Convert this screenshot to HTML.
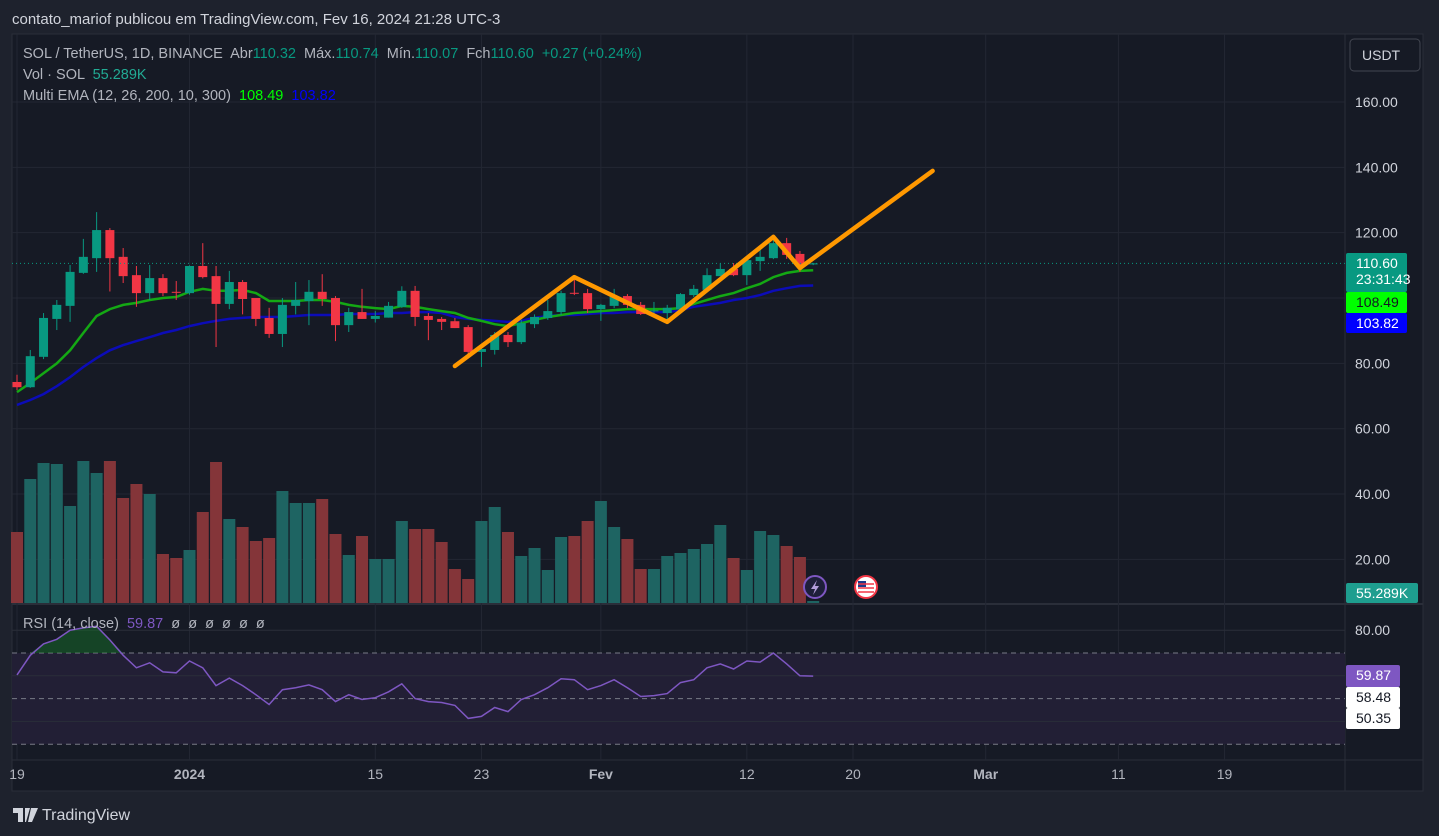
<!DOCTYPE html>
<html><head><meta charset="utf-8">
<style>
body{margin:0;background:#1e222d;width:1439px;height:836px;overflow:hidden;font-family:"Liberation Sans",sans-serif}
svg{position:absolute;left:0;top:0}
text{white-space:pre}
</style></head>
<body>
<svg id="c" width="1439" height="836"></svg>
<script>
const opens=[74.3,72.7,82,93.6,97.6,107.7,112.2,120.8,112.6,107,101.5,106.1,101.9,101.5,109.8,106.7,98.2,104.9,100,93.9,89,97.6,99.1,101.9,100,91.7,95.7,93.6,94,97.3,102.2,94.5,93.6,92.9,91.1,83.5,84.1,88.7,86.5,92,93.9,95.7,101.6,101.5,96.6,97.6,100.6,97.9,96,95.4,96.6,100.9,102.5,106.7,108.9,107,111.3,112.2,116.8,113.5,110.32];
const highs=[76.5,84.1,95.4,99.4,110.1,118.1,126.3,121.4,115.3,109.8,110.1,107.3,105.2,110,116.8,109.8,108.3,105.5,100,97,100,104.9,105.5,107.3,100.6,97,102.8,96,98.8,103.6,103.7,95.4,94.2,93.9,91.7,85.9,89.6,89.6,93.3,95,99.4,102.2,106.4,102.8,98.2,102.8,101.2,98.8,98.8,97.9,101.5,104,109.1,110.7,110.7,112.2,115,118.4,118.4,114.4,110.74];
const lows=[71.8,72.5,81.3,90.2,92.7,107.4,108,102,104.6,97.3,99.4,100.6,99.4,101,106,85,96.6,95,91.4,87.8,85,95,91.7,97.6,86.8,89.6,93.6,92.5,94,97,91.4,87.1,90.2,90.8,82,78.9,82.7,85,85.9,90.8,93.3,94.8,100.9,95.4,93,96.9,96.9,94.8,94.2,93.3,96.3,100.3,102.2,106.7,106.7,104,108.3,111.9,112,108,110.07];
const closes=[72.7,82.2,93.9,97.9,108,112.6,120.8,112.2,106.7,101.5,106.1,101.5,101.6,109.8,106.4,98.2,104.9,99.7,93.6,89,97.9,99.4,101.9,99.7,91.7,95.7,93.6,94.5,97.6,102.2,94.2,93.3,92.7,90.8,83.5,84.4,88.7,86.5,92.3,94.2,96,101.5,101.4,96.6,97.9,100.6,97.9,95.1,96.2,97,101.2,102.8,107,108.9,107,111.6,112.6,116.8,113.2,110.1,110.6];
const vols=[71,124,140,139,97,142,130,142,105,119,109,49,45,53,91,141,84,76,62,65,112,100,100,104,69,48,67,44,44,82,74,74,61,34,24,82,96,71,47,55,33,66,67,82,102,76,64,34,34,47,50,54,59,78,45,33,72,68,57,46,2];
const emaFast=[71.2,74,77,80,84,89.3,94.5,96.6,97.9,98.5,99.4,100,100.3,101.9,102.8,102.2,102.2,102.5,101.5,99.1,99.1,99.1,99.4,99.4,98.8,97.9,97.3,96.9,96.6,97.6,97.3,96.6,96,95.4,93.9,93,92,91.4,92.3,93.3,94.2,94.8,95.4,95.7,96,96.3,96.6,96.6,96.6,96.6,96.9,98.2,99.4,100.6,101.5,103,104.3,106.4,107.7,108.3,108.49];
const emaSlow=[67.3,68.8,70.6,73,75.8,78.9,81.6,84,85.6,86.8,88,89.3,90.2,91.4,92.3,93,93.6,93.9,94.2,94.2,94.2,94.5,94.8,94.8,94.8,95.1,95.1,95.1,95.4,95.4,95.7,95.7,95.4,94.2,93.6,93.3,93,92.7,93,93.9,94.5,94.8,94.8,95.1,95.4,95.4,95.7,95.7,95.7,95.7,96.3,97.3,97.9,98.5,99.4,100,100.9,102.2,103,103.7,103.82];
const rsi=[60.4,69,74,76,80,81,81.7,75.7,69,63.5,65.7,61.7,61.3,66.5,63.5,55.7,59,55.7,51.7,47.4,53.9,54.8,56,53.9,48.7,51.7,49.6,50.4,53,56.5,50,48.7,48.3,47,41.3,42.2,46.1,44.3,49.6,51.7,54.8,58.7,58.3,53.9,55.7,58.3,54.8,50.9,51.3,52.2,57,58.3,63.5,65.2,63,66.5,66,70,65.2,60,59.87];
const drawIdx=[33,42,49,57,59,69];
const drawPrice=[79.2,106.4,92.7,118.7,109.2,138.9];
const priceTicks=[160,140,120,100,80,60,40,20];
const rsiTicks=[80];
const timeLabels=["19","2024","15","23","Fev","12","20","Mar","11","19"];
const timeIdx=[0,13,27,35,44,55,63,73,83,91];

const NS="http://www.w3.org/2000/svg",svg=document.getElementById('c');
function el(t,a,p){const e=document.createElementNS(NS,t);for(const k in a)e.setAttribute(k,a[k]);(p||svg).appendChild(e);return e;}
function txt(x,y,s,a){const e=el('text',Object.assign({x:x,y:y,'font-size':14,fill:'#b2b5be','font-family':'Liberation Sans, sans-serif'},a||{}));e.textContent=s;return e;}
const xOf=i=>17+i*13.27;
const yP=p=>102+(160-p)*3.267;
const yV=v=>603-v;
const yR=r=>653+(70-r)*2.28;

const fr=el('rect',{x:12,y:34,width:1411,height:757,fill:'#161a25',stroke:'#2a2e39'});

el('line',{x1:1345,y1:34,x2:1345,y2:791,stroke:'#2a2e39'});
el('line',{x1:12,y1:604,x2:1423,y2:604,stroke:'#2a2e39','stroke-width':2});
el('line',{x1:12,y1:760,x2:1423,y2:760,stroke:'#2a2e39'});
const h=txt(12,24,'contato_mariof publicou em TradingView.com, Fev 16, 2024 21:28 UTC-3',{'font-size':15,fill:'#d1d4dc'});

priceTicks.forEach(p=>{const y=yP(p);if(y>40&&y<600)el('line',{x1:12,y1:y,x2:1345,y2:y,stroke:'#232733'});
 const t=txt(1355,y+5,p.toFixed(2),{fill:'#d1d4dc'});});
timeIdx.forEach(i=>{const x=xOf(i);el('line',{x1:x,y1:34,x2:x,y2:760,stroke:'#232733'});});
el('rect',{x:12,y:yR(70),width:1333,height:yR(30)-yR(70),fill:'#221f35'});
[70,50,30].forEach(r=>el('line',{x1:12,y1:yR(r),x2:1345,y2:yR(r),stroke:'#787b86','stroke-dasharray':'5,4'}));
[80,60,40].forEach(r=>el('line',{x1:12,y1:yR(r),x2:1345,y2:yR(r),stroke:'#2a2e39'}));
rsiTicks.forEach(r=>{const t=txt(1355,yR(r)+5,r.toFixed(2),{fill:'#d1d4dc'});});
vols.forEach((v,i)=>{const up=closes[i]>=opens[i];
 const b=el('rect',{x:xOf(i)-6,y:yV(v),width:12,height:v,fill:up?'#1e6462':'#843539'});
 });
function line(arr,f,col,w,name){const d=arr.map((v,i)=>(i?'L':'M')+xOf(i).toFixed(1)+','+f(v).toFixed(1)).join('');
 const p=el('path',{d:d,fill:'none',stroke:col,'stroke-width':w});}
line(emaSlow,yP,'#0c0cb8',2.5,'ema-slow-line');
line(emaFast,yP,'#14a814',2.5,'ema-fast-line');
opens.forEach((o,i)=>{const c=closes[i],up=c>=o,col=up?'#089981':'#f23645',x=xOf(i);
 const g=el('g',{});
 el('line',{x1:x,y1:yP(highs[i]),x2:x,y2:yP(lows[i]),stroke:col,'stroke-width':1},g);
 const t=yP(Math.max(o,c)),bh=Math.max(1,Math.abs(yP(o)-yP(c)));
 el('rect',{x:x-4.5,y:t,width:9,height:bh,fill:col},g);});
el('line',{x1:12,y1:yP(110.6),x2:1345,y2:yP(110.6),stroke:'#089981','stroke-dasharray':'1,3'});
const dp=el('path',{d:drawIdx.map((d,i)=>(i?'L':'M')+xOf(d).toFixed(1)+','+yP(drawPrice[i]).toFixed(1)).join(''),fill:'none',stroke:'#ff9800','stroke-width':4.5,'stroke-linecap':'round','stroke-linejoin':'round'});

// overbought fill
let ob='';rsi.forEach((r,i)=>{ob+=(i?'L':'M')+xOf(i).toFixed(1)+','+Math.min(yR(r),yR(70)).toFixed(1);});
ob+='L'+xOf(rsi.length-1)+','+yR(70)+'L'+xOf(0)+','+yR(70)+'Z';
const obp=el('path',{d:ob,fill:'rgba(20,120,40,0.45)'});
line(rsi,yR,'#7e57c2',1.5,'rsi-line');
function tag(y,h,bg,lines,name,fg){const g=el('g',{});
 el('rect',{x:1346,y:y,width:h[0],height:h[1],fill:bg,rx:2},g);
 lines.forEach((s,k)=>{const t=el('text',{x:1356,y:y+15+k*16,'font-size':14,fill:fg||'#fff','font-family':'Liberation Sans, sans-serif'},g);t.textContent=s;});}
tag(253,[61,39],'#089981',['110.60','23:31:43'],'last-price-tag');
tag(292,[61,21],'#00ff00',['108.49'],'ema-fast-tag','#131722');
tag(313,[61,20],'#0000ff',['103.82'],'ema-slow-tag');
tag(583,[72,20],'#1e9e8f',['55.289K'],'volume-tag');
tag(665,[54,22],'#7e57c2',['59.87'],'rsi-tag');
tag(687,[54,21],'#ffffff',['58.48'],'rsi-tag-upper','#131722');
tag(708,[54,21],'#ffffff',['50.35'],'rsi-tag-lower','#131722');
const ub=el('g',{});
el('rect',{x:1350,y:39,width:70,height:32,rx:4,fill:'#161a25',stroke:'#434651'},ub);
const ut=el('text',{x:1362,y:60,'font-size':14,fill:'#d1d4dc','font-family':'Liberation Sans, sans-serif'},ub);ut.textContent='USDT';
function leg(y,parts,name){const t=el('text',{x:23,y:y,'font-size':14.5,'font-family':'Liberation Sans, sans-serif'});
 parts.forEach(p=>{const s=el('tspan',{fill:p[1]},t);s.textContent=p[0];});}
leg(58,[['SOL / TetherUS, 1D, BINANCE  Abr','#b2b5be'],['110.32','#089981'],['  Máx.','#b2b5be'],['110.74','#089981'],['  Mín.','#b2b5be'],['110.07','#089981'],['  Fch','#b2b5be'],['110.60  +0.27 (+0.24%)','#089981']],'symbol-legend');
leg(79,[['Vol · SOL  ','#b2b5be'],['55.289K','#22ab94']],'volume-legend');
leg(100,[['Multi EMA (12, 26, 200, 10, 300)  ','#b2b5be'],['108.49','#00ff00'],['  103.82','#0000ff']],'ema-legend');
leg(628,[['RSI (14, close)  ','#b2b5be'],['59.87','#7e57c2'],['  ø  ø  ø  ø  ø  ø','#b2b5be']],'rsi-legend');
timeLabels.forEach((s,i)=>{const t=txt(xOf(timeIdx[i]),779,s,{'text-anchor':'middle',fill:'#b2b5be','font-weight':s=='2024'||s=='Fev'||s=='Mar'?'bold':'normal'});});
const i1=el('g',{});
el('circle',{cx:815,cy:587,r:11,fill:'#1e1f3a',stroke:'#7e57c2','stroke-width':2},i1);
el('path',{d:'M817 580 L811 589 L815 589 L813 595 L819 586 L815 586 Z',fill:'#b39ddb'},i1);
const i2=el('g',{});
el('circle',{cx:866,cy:587,r:11,fill:'#fff',stroke:'#f23645','stroke-width':2},i2);
el('rect',{x:858,y:581,width:8,height:6,fill:'#1e3a8a'},i2);
[584,588,592].forEach(y=>el('line',{x1:858,y1:y,x2:874,y2:y,stroke:'#f23645','stroke-width':1.5},i2));
const f=el('g',{});
el('path',{d:'M13 808h10v14h-5v-9h-5z M25 808h5l-4 14h-1z M31 808h7l-6 14h-4z',fill:'#d1d4dc'},f);
const ft=el('text',{x:42,y:820,'font-size':16,fill:'#d1d4dc','font-family':'Liberation Sans, sans-serif'},f);ft.textContent='TradingView';
</script>
</body></html>
